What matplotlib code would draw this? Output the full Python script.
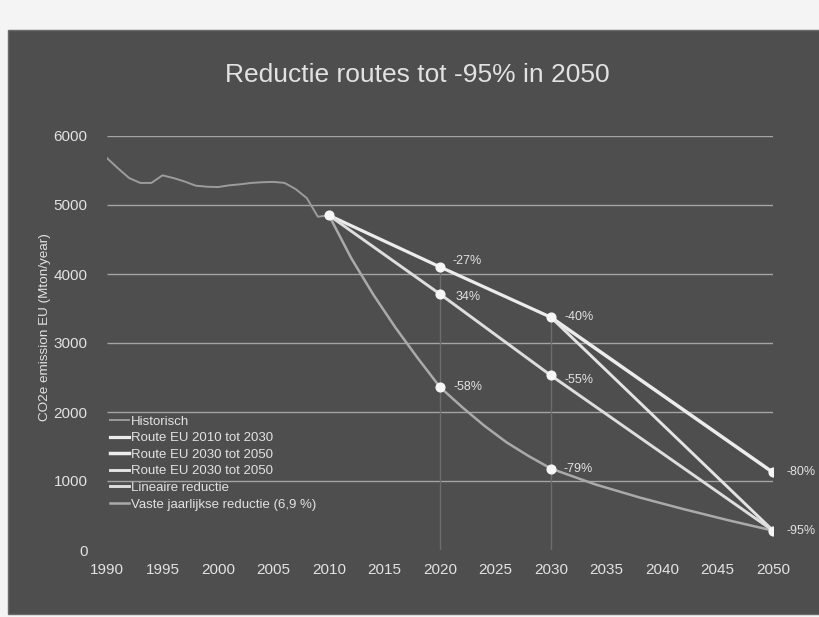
import matplotlib.pyplot as plt
from matplotlib.patches import Rectangle

plt.rcParams['font.family'] = ['Liberation Sans', 'DejaVu Sans']

# 1990 emission used as reference for the percentage labels
base_1990 = 5620
start_2010 = 4850

hist_years = list(range(1990, 2011))
hist_values = [5680, 5530, 5390, 5320, 5320, 5430, 5390, 5340, 5280, 5265,
               5260, 5285, 5300, 5320, 5330, 5335, 5320, 5230, 5100, 4830, 4850]

# reductions vs 1990 (percent) at the marked years
eu_2030_years = [2020, 2030]
eu_2030_pct = [27, 40]
eu_2050_a_pct = 80
eu_2050_b_pct = 95
lin_years = [2020, 2030, 2050]
lin_pct = [34, 55, 95]
vaste_mark_years = [2020, 2030, 2050]
vaste_pct = [58, 79, 95]
vaste_labels = ['-58%', '-79%', '-95%']
lin_labels = ['34%', '-55%', '-95%']

# fixed yearly reduction curve as drawn
vaste_years = [2010, 2012, 2014, 2016, 2018, 2020, 2022, 2024, 2026, 2028,
               2030, 2034, 2038, 2042, 2046, 2050]
vaste_values = [4850, 4230, 3700, 3220, 2780, 2360, 2070, 1800, 1560, 1360,
                1180, 950, 760, 590, 430, 281]


def level(p):
    return base_1990 * (1 - p / 100)


eu_a_x = [2010] + eu_2030_years
eu_a_y = [start_2010] + [level(p) for p in eu_2030_pct]
eu_b_x = [2030, 2050]
eu_b_y = [level(eu_2030_pct[-1]), level(eu_2050_a_pct)]
eu_c_x = [2030, 2050]
eu_c_y = [level(eu_2030_pct[-1]), level(eu_2050_b_pct)]
lin_x = [2010] + lin_years
lin_y = [start_2010] + [level(p) for p in lin_pct]
vaste_mark_y = [level(p) for p in vaste_pct]

bg = '#4e4e4e'
txt = '#e2e2e2'
white = '#ececec'

fig = plt.figure(figsize=(8.2, 6.17), dpi=100, facecolor='#f4f4f4')
fig.patches.append(Rectangle((8 / 820, 3 / 617), 812 / 820, 584 / 617,
                             transform=fig.transFigure, facecolor=bg,
                             edgecolor='#6a6a6a', lw=1.0, zorder=-10))

ax = fig.add_axes([107 / 820, 1 - 550 / 617, 666 / 820, 414 / 617])
ax.patch.set_alpha(0)
ax.set_xlim(1990, 2050)
ax.set_ylim(0, 6000)
for s in ax.spines.values():
    s.set_visible(False)

ax.set_xticks(range(1990, 2051, 5))
ax.set_yticks(range(0, 6001, 1000))
ax.tick_params(axis='both', length=0, colors=txt, labelsize=11)
ax.tick_params(axis='y', pad=14)
ax.tick_params(axis='x', pad=9)

ax.hlines(range(1000, 6001, 1000), 1990, 2050, color='#a4a4a4', lw=1.0, zorder=1)
# drop lines under the 2020 and 2030 points
ax.vlines([2020, 2030], 0, [eu_a_y[1], eu_a_y[2]], color='#6c6c6c', lw=1.0, zorder=1)

ax.plot(hist_years, hist_values, color='#9c9c9c', lw=1.4, label='Historisch', zorder=3)
ax.plot(eu_a_x, eu_a_y, color=white, lw=2.3, label='Route EU 2010 tot 2030', zorder=4)
ax.plot(eu_b_x, eu_b_y, color=white, lw=2.5, label='Route EU 2030 tot 2050', zorder=4)
ax.plot(eu_c_x, eu_c_y, color='#e4e4e4', lw=2.1, label='Route EU 2030 tot 2050', zorder=4)
ax.plot(lin_x, lin_y, color='#dedede', lw=2.1, label='Lineaire reductie', zorder=4)
ax.plot(vaste_years, vaste_values, color='#aaaaaa', lw=1.8,
        label='Vaste jaarlijkse reductie (6,9 %)', zorder=3)

mk = dict(marker='o', ms=6.3, color='#f6f6f6', ls='none', zorder=6)
ax.plot([2010], [start_2010], **mk)
ax.plot(eu_a_x[1:], eu_a_y[1:], **mk)
ax.plot([2050, 2050], [eu_b_y[1], eu_c_y[1]], **mk)
ax.plot(lin_x[1:3], lin_y[1:3], **mk)
ax.plot(vaste_mark_years[:2], vaste_mark_y[:2], **mk)

lab = dict(color=txt, fontsize=9, ha='left', va='center',
           textcoords='offset points', annotation_clip=False, zorder=7)
ax.annotate('-27%', (2020, eu_a_y[1]), xytext=(9, 4), **lab)
ax.annotate('-40%', (2030, eu_a_y[2]), xytext=(10, 0), **lab)
ax.annotate('-80%', (2050, eu_b_y[1]), xytext=(10, 0), **lab)
ax.annotate(vaste_labels[2], (2050, eu_c_y[1]), xytext=(10, 0), **lab)
ax.annotate(lin_labels[0], (2020, lin_y[1]), xytext=(11, -2), **lab)
ax.annotate(lin_labels[1], (2030, lin_y[2]), xytext=(10, -3), **lab)
ax.annotate(vaste_labels[0], (2020, vaste_mark_y[0]), xytext=(10, 0), **lab)
ax.annotate(vaste_labels[1], (2030, vaste_mark_y[1]), xytext=(9, 0), **lab)

leg = ax.legend(loc='upper left', bbox_to_anchor=(0.004, 0.325), frameon=False,
                fontsize=9.5, handlelength=1.5, handletextpad=0.1,
                labelspacing=0.33, borderpad=0, borderaxespad=0)
for t in leg.get_texts():
    t.set_color(txt)

fig.text(45 / 820, 1 - 327 / 617, 'CO2e emission EU (Mton/year)', rotation=90,
         ha='center', va='center', color=txt, fontsize=9.7)
fig.text(417 / 820, 1 - 75 / 617, 'Reductie routes tot -95% in 2050',
         ha='center', va='center', color=txt, fontsize=19)

fig.savefig('out.png', dpi=100, facecolor=fig.get_facecolor())
